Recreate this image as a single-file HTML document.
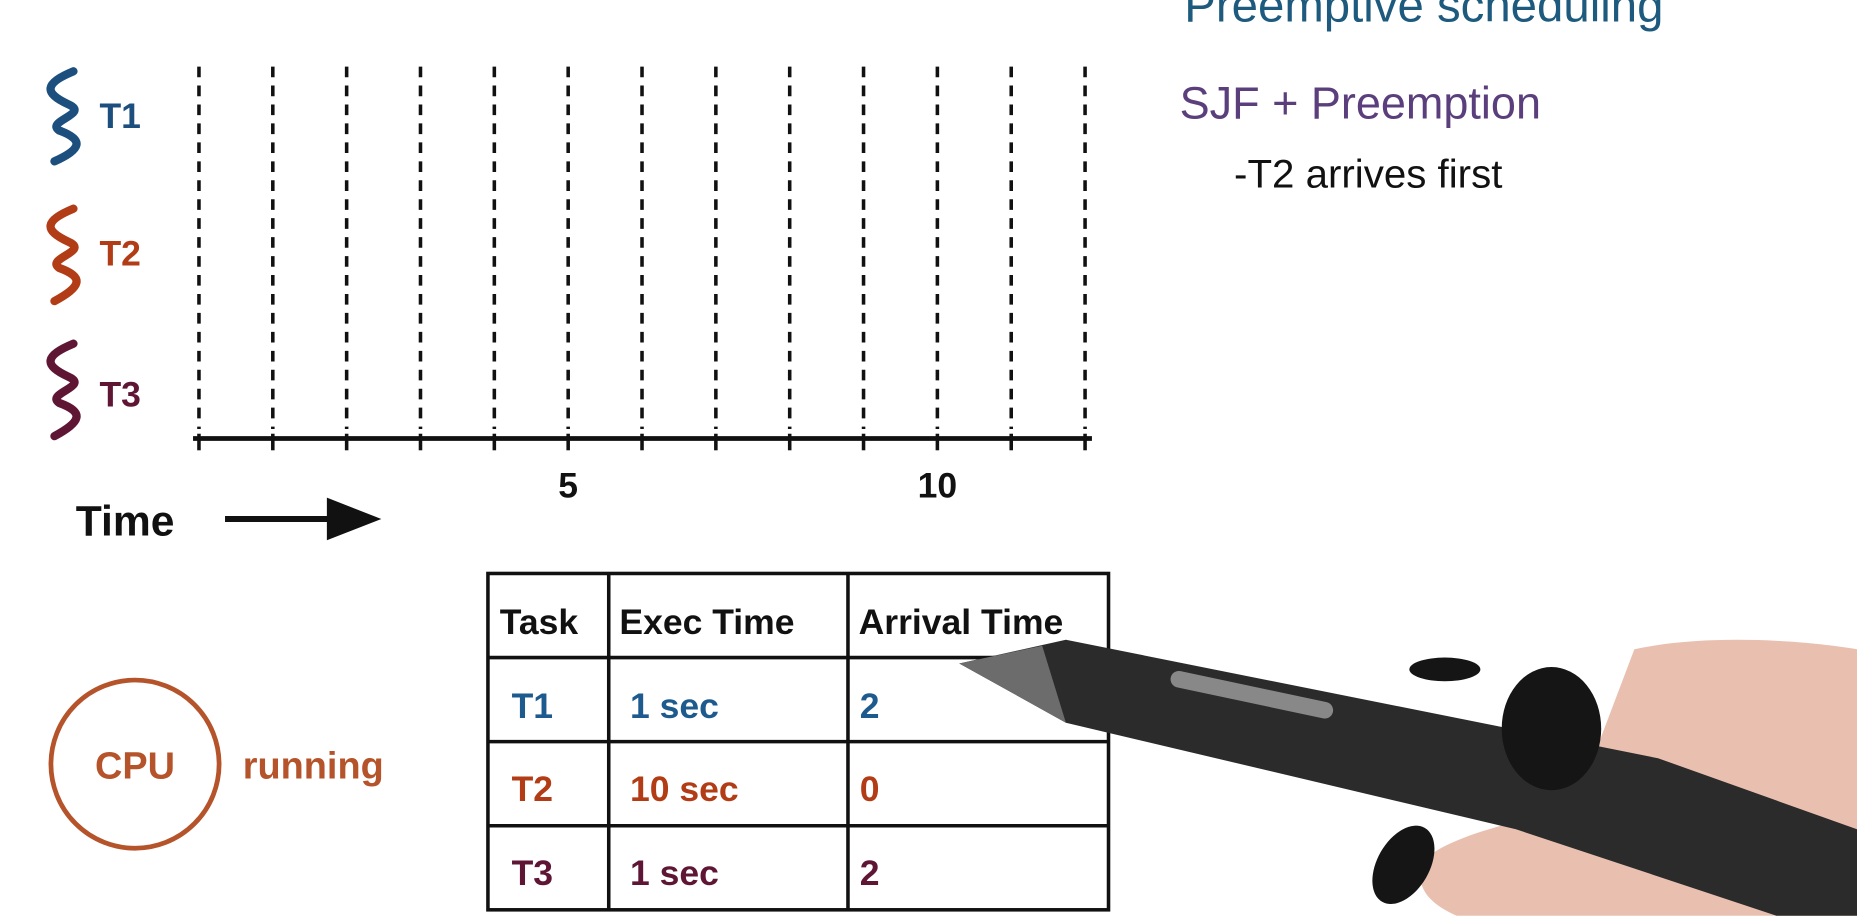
<!DOCTYPE html>
<html><head><meta charset="utf-8"><style>
html,body{margin:0;padding:0;background:#fff;overflow:hidden}
svg{display:block}
text{font-family:"Liberation Sans",sans-serif}
</style></head><body>
<svg id="chart" width="1857" height="916" viewBox="0 0 1568 773" xmlns="http://www.w3.org/2000/svg">
<rect width="1568" height="773" fill="#fff"/>
<g id="grid"></g>
<line x1="163" y1="370" x2="922" y2="370" stroke="#111" stroke-width="4"/>
<g id="ticklabels"></g>

<g>
<path d="M62,60 C38,70 36,78 58,88 C76,96 38,102 50,110 C72,118 68,126 46,136" fill="none" stroke="#1d4f7e" stroke-width="7" stroke-linecap="round"/>
<text x="84" y="108" font-size="30" font-weight="bold" fill="#1d4f7e">T1</text></g>
<g>
<path d="M62,176 C38,186 36,194 58,204 C76,212 38,218 50,226 C72,234 68,242 46,254" fill="none" stroke="#b23c16" stroke-width="7" stroke-linecap="round"/>
<text x="84" y="224" font-size="30" font-weight="bold" fill="#b23c16">T2</text></g>
<g>
<path d="M62,290 C38,300 36,308 58,318 C76,326 38,332 50,340 C72,348 68,356 46,368" fill="none" stroke="#5e1634" stroke-width="7" stroke-linecap="round"/>
<text x="84" y="343" font-size="30" font-weight="bold" fill="#5e1634">T3</text></g>

<text x="64" y="452" font-size="36" font-weight="bold" fill="#111">Time</text>
<g><line x1="190" y1="438" x2="282" y2="438" stroke="#111" stroke-width="5"/><polygon points="276,420 322,438 276,456" fill="#111"/></g>

<g>
<text x="1000" y="18" font-size="40" fill="#1d5a7e">Preemptive  scheduling</text>
<text x="996" y="100" font-size="38" fill="#5b3f7d">SJF + Preemption</text>
<text x="1042" y="158" font-size="34" fill="#111">-T2 arrives first</text>
</g>

<g>
<circle cx="114" cy="645" r="71" fill="none" stroke="#b5532a" stroke-width="4"/>
<text x="114" y="657" text-anchor="middle" font-size="32" font-weight="bold" fill="#b5532a">CPU</text>
<text x="205" y="657" font-size="32" font-weight="bold" fill="#b5532a">running</text></g>

<g font-size="30" font-weight="bold">
<rect x="412" y="484" width="524" height="284" fill="none" stroke="#111" stroke-width="3"/>
<line x1="514" y1="484" x2="514" y2="768" stroke="#111" stroke-width="3"/>
<line x1="716" y1="484" x2="716" y2="768" stroke="#111" stroke-width="3"/>
<line x1="412" y1="555" x2="936" y2="555" stroke="#111" stroke-width="3"/>
<line x1="412" y1="626" x2="936" y2="626" stroke="#111" stroke-width="3"/>
<line x1="412" y1="697" x2="936" y2="697" stroke="#111" stroke-width="3"/>
<text x="422" y="535" fill="#111">Task</text><text x="523" y="535" fill="#111">Exec Time</text><text x="725" y="535" fill="#111">Arrival Time</text>
<text x="432" y="606" fill="#1d5a8e">T1</text><text x="532" y="606" fill="#1d5a8e">1 sec</text><text x="726" y="606" fill="#1d5a8e">2</text>
<text x="432" y="676" fill="#b23c16">T2</text><text x="532" y="676" fill="#b23c16">10 sec</text><text x="726" y="676" fill="#b23c16">0</text>
<text x="432" y="747" fill="#5e1634">T3</text><text x="532" y="747" fill="#5e1634">1 sec</text><text x="726" y="747" fill="#5e1634">2</text>
</g>

<g>
<path d="M1380,548 C1440,535 1520,540 1568,548 L1568,773 L1230,773 C1200,760 1190,740 1210,720 C1240,700 1300,690 1330,680 Z" fill="#e9c0b0"/>
<polygon points="810,560 900,540 1400,640 1568,700 1568,773 1500,773 1280,700 900,610" fill="#2b2b2b"/>
<polygon points="810,560 880,545 900,610" fill="#6c6c6c"/>
<ellipse cx="1310" cy="615" rx="42" ry="52" fill="#151515"/>
<ellipse cx="1220" cy="565" rx="30" ry="10" fill="#151515"/>
<ellipse cx="1185" cy="730" rx="22" ry="36" fill="#151515" transform="rotate(30 1185 730)"/>
<rect x="990" y="565" width="140" height="14" rx="7" fill="#888" transform="rotate(12 990 565)"/>
</g>
</svg>
<script>
const timeTicks=[0,1,2,3,4,5,6,7,8,9,10,11,12];
const tickLabels=[5,10];
const x0=168,dx=62.35;
function xScale(t){return x0+t*dx;}
const ns="http://www.w3.org/2000/svg";
const grid=document.getElementById('grid');
timeTicks.forEach(t=>{
  const l=document.createElementNS(ns,'line');
  
  
  l.setAttribute('x1',xScale(t));l.setAttribute('x2',xScale(t));
  l.setAttribute('y1',56);l.setAttribute('y2',362);
  l.setAttribute('stroke','#111');l.setAttribute('stroke-width',3);
  l.setAttribute('stroke-dasharray','9 7');
  grid.appendChild(l);
  const k=document.createElementNS(ns,'line');
  
  
  k.setAttribute('x1',xScale(t));k.setAttribute('x2',xScale(t));
  k.setAttribute('y1',366);k.setAttribute('y2',380);
  k.setAttribute('stroke','#111');k.setAttribute('stroke-width',3);
  grid.appendChild(k);
});
const tl=document.getElementById('ticklabels');
tickLabels.forEach(v=>{
  const t=document.createElementNS(ns,'text');
  
  
  t.setAttribute('x',xScale(v));t.setAttribute('y',420);
  t.setAttribute('text-anchor','middle');t.setAttribute('font-size','30');
  t.setAttribute('font-weight','bold');t.setAttribute('fill','#111');
  t.textContent=v;tl.appendChild(t);
});
</script>
</body></html>
